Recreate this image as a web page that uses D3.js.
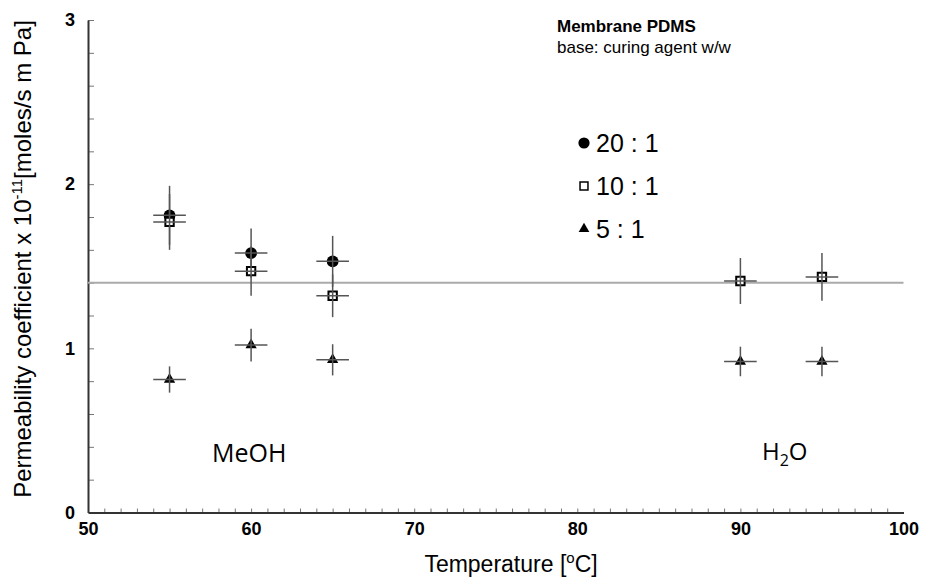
<!DOCTYPE html>
<html>
<head>
<meta charset="utf-8">
<script src="https://cdn.jsdelivr.net/npm/d3@7"></script>
<style>
  body { margin: 0; background: #fff; }
  text { font-family: "Liberation Sans", Arial, sans-serif; }
</style>
</head>
<body>
<div class="chart"></div>
<script>
// data
var temps = [55, 60, 65, 90, 95];
var temps_20 = [55, 60, 65];
var perm_20 = [1.81, 1.58, 1.53];
var err_20 = [0.18, 0.15, 0.155];
var perm_10 = [1.77, 1.47, 1.32, 1.41, 1.435];
var err_10 = [0.17, 0.15, 0.13, 0.14, 0.145];
var perm_5 = [0.81, 1.02, 0.93, 0.92, 0.92];
var err_5 = [0.08, 0.1, 0.095, 0.09, 0.09];
var temp_err = 1;
var ref_level = 1.4;
var x_ticks = [50, 60, 70, 80, 90, 100];
var y_ticks = [0, 1, 2, 3];
var legend_labels = ["20 : 1", "10 : 1", "5 : 1"];

var width = 933, height = 578;
var margin = {top: 20, right: 29.5, bottom: 65.5, left: 88};

var svg = d3.select('.chart')
    .append('svg')
        .attr('width', width)
        .attr('height', height);

var x = d3.scaleLinear()
    .domain([50, 100])
    .range([margin.left, width - margin.right]);

var y = d3.scaleLinear()
    .domain([0, 3])
    .range([height - margin.bottom, margin.top]);

// minor ticks
svg.append('g')
    .attr('transform', 'translate(0,' + y(0) + ')')
    .call(d3.axisTop(x).tickValues(d3.range(51, 100, 1)).tickSize(4).tickFormat(''))
    .call(function(g) { g.select('.domain').remove(); })
    .selectAll('line').attr('stroke', '#777');

svg.append('g')
    .attr('transform', 'translate(' + x(50) + ',0)')
    .call(d3.axisRight(y).tickValues(d3.range(0.2, 3.01, 0.2)).tickSize(6).tickFormat(''))
    .call(function(g) { g.select('.domain').remove(); })
    .selectAll('line').attr('stroke', '#777');

// main axes
var xAxis = svg.append('g')
    .attr('transform', 'translate(0,' + y(0) + ')')
    .call(d3.axisBottom(x).tickValues(x_ticks).tickSize(0).tickPadding(10).tickFormat(d3.format('d')));
xAxis.select('.domain').attr('stroke', '#333').attr('stroke-width', 2);
xAxis.selectAll('text')
    .style('font-size', '18px').style('font-weight', 'bold')
    .attr('fill', '#000');

var yAxis = svg.append('g')
    .attr('transform', 'translate(' + x(50) + ',0)')
    .call(d3.axisLeft(y).tickValues(y_ticks).tickSize(0).tickPadding(13).tickFormat(d3.format('d')));
yAxis.select('.domain').attr('stroke', '#333').attr('stroke-width', 2);
yAxis.selectAll('text')
    .style('font-size', '18px').style('font-weight', 'bold')
    .attr('fill', '#000');

// reference line
svg.append('line')
    .attr('x1', x(50)).attr('x2', x(100))
    .attr('y1', y(ref_level)).attr('y2', y(ref_level))
    .attr('stroke', '#aaa').attr('stroke-width', 2);

// series
var series = [
    {t: temps_20, v: perm_20, e: err_20, type: d3.symbolCircle, size: 110, fill: '#000', stroke: 'none'},
    {t: temps, v: perm_10, e: err_10, type: d3.symbolSquare, size: 70, fill: '#fff', stroke: '#000'},
    {t: temps, v: perm_5, e: err_5, type: d3.symbolTriangle, size: 55, fill: '#000', stroke: 'none'}
];

series.forEach(function(s) {
    var pts = s.t.map(function(t, i) { return {t: t, v: s.v[i], e: s.e[i]}; });
    var g = svg.append('g');
    g.selectAll('path')
        .data(pts)
        .enter()
        .append('path')
            .attr('d', d3.symbol().type(s.type).size(s.size))
            .attr('transform', function(d) { return 'translate(' + x(d.t) + ',' + y(d.v) + ')'; })
            .attr('fill', s.fill)
            .attr('stroke', s.stroke)
            .attr('stroke-width', 2);
    g.selectAll('.ev')
        .data(pts)
        .enter()
        .append('line')
            .attr('x1', function(d) { return x(d.t); })
            .attr('x2', function(d) { return x(d.t); })
            .attr('y1', function(d) { return y(d.v - d.e); })
            .attr('y2', function(d) { return y(d.v + d.e); })
            .attr('stroke', '#555').attr('stroke-width', 1.5);
    g.selectAll('.eh')
        .data(pts)
        .enter()
        .append('line')
            .attr('x1', function(d) { return x(d.t - temp_err); })
            .attr('x2', function(d) { return x(d.t + temp_err); })
            .attr('y1', function(d) { return y(d.v); })
            .attr('y2', function(d) { return y(d.v); })
            .attr('stroke', '#555').attr('stroke-width', 1.5);
});

// legend
var legend = svg.append('g');
legend.append('text')
    .attr('x', 557).attr('y', 32)
    .style('font-size', '17px').style('font-weight', 'bold')
    .text('Membrane PDMS');
legend.append('text')
    .attr('x', 557).attr('y', 53)
    .style('font-size', '17px')
    .text('base: curing agent w/w');

var items = legend.selectAll('.item')
    .data(series)
    .enter()
    .append('g')
        .attr('transform', function(d, i) { return 'translate(584,' + (143 + i * 43) + ')'; });
items.append('path')
    .attr('d', function(d) { return d3.symbol().type(d.type).size(d.size * 0.9)(); })
    .attr('fill', function(d) { return d.fill; })
    .attr('stroke', function(d) { return d.stroke; })
    .attr('stroke-width', 1.5);
items.append('text')
    .attr('x', 12).attr('y', 9)
    .style('font-size', '25px')
    .text(function(d, i) { return legend_labels[i]; });

// solvent labels
svg.append('text')
    .attr('x', 212).attr('y', 462)
    .style('font-size', '25px')
    .style('font-family', '"Open Sans", sans-serif')
    .text('MeOH');
var h2o = svg.append('text')
    .attr('x', 762).attr('y', 460)
    .style('font-size', '24px')
    .style('font-family', '"Open Sans", sans-serif');
h2o.append('tspan').text('H');
h2o.append('tspan').attr('dy', 6).style('font-size', '16px').text('2');
h2o.append('tspan').attr('dy', -6).text('O');

// axis titles
var xt = svg.append('text')
    .attr('x', 511).attr('y', 572)
    .attr('text-anchor', 'middle')
    .style('font-size', '23px');
xt.append('tspan').text('Temperature [');
xt.append('tspan').attr('dy', -9).style('font-size', '15px').text('o');
xt.append('tspan').attr('dy', 9).text('C]');

var yt = svg.append('text')
    .attr('transform', 'translate(31,' + 259 + ') rotate(-90)')
    .attr('text-anchor', 'middle')
    .style('font-size', '24px');
yt.append('tspan').text('Permeability coefficient  x 10');
yt.append('tspan').attr('dy', -9).style('font-size', '15px').text('-11');
yt.append('tspan').attr('dy', 9).text('[moles/s m Pa]');
</script>
</body>
</html>
